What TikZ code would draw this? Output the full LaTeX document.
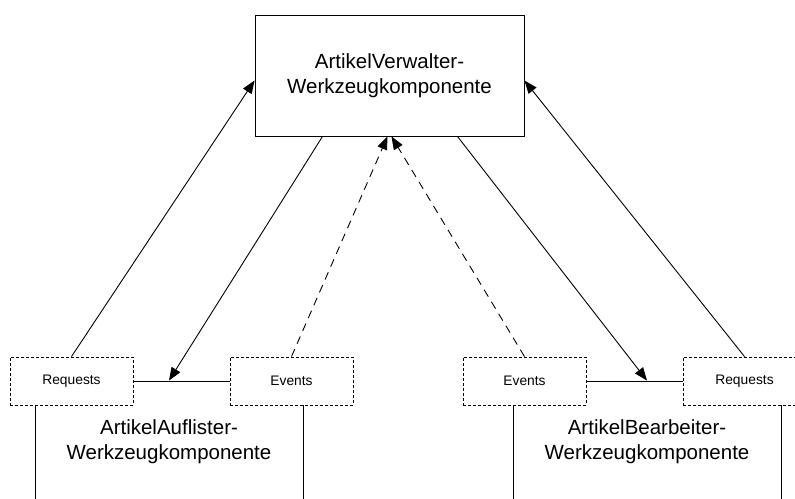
\documentclass[tikz,border=0pt]{standalone}
\usepackage{fontspec}
\setmainfont{Liberation Sans}
\usetikzlibrary{arrows.meta}
\begin{document}
\begin{tikzpicture}[x=1pt,y=-1pt,line width=0.9pt,
  bigtext/.style={font=\fontsize{20.5}{25}\selectfont,align=center},
  toolbox/.style={draw,minimum width=269pt,minimum height=121pt,inner sep=0pt},
  compbox/.style={draw,minimum width=268pt,minimum height=160pt,inner sep=0pt},
  port/.style={draw,fill=white,dash pattern=on 3pt off 2pt,minimum width=123pt,
    minimum height=48pt,inner sep=0pt,font=\fontsize{13.8}{16}\selectfont},
  call/.style={-{Triangle[length=13pt,width=10pt]}},
  notify/.style={call,dash pattern=on 8pt off 6pt}]
  \useasboundingbox (0,0) rectangle (795,498);

  % central tool component
  \node[toolbox,bigtext] (verw) at (389.5,75.5) {ArtikelVerwalter-\\Werkzeugkomponente};

  % lower tool components (open at the bottom edge)
  \node[compbox] (aufl) at (169,461) {};
  \node[compbox] (bearb) at (647,461) {};
  \node[bigtext] (auflname) at (169,442) {ArtikelAuflister-\\Werkzeugkomponente};
  \node[bigtext] (bearbname) at (647,442) {ArtikelBearbeiter-\\Werkzeugkomponente};

  % ports
  \node[port] (reqL) at (71.5,381) {Requests};
  \node[port] (evL) at (291.5,381) {Events};
  \node[port] (evR) at (524.5,381) {Events};
  \node[port] (reqR) at (744.5,381) {Requests};

  % requests up to the central component
  \draw[call] (reqL.north) -- ([yshift=-5pt]verw.west);
  \draw[call] (reqR.north) -- ([yshift=-5pt]verw.east);

  % calls down into the lower components
  \draw[call] ([xshift=-67pt]verw.south) -- (aufl.north);
  \draw[call] ([xshift=68pt]verw.south) -- (bearb.north);

  % events up to the central component
  \draw[notify] (evL.north) -- ([xshift=-2pt]verw.south);
  \draw[notify] (evR.north) -- ([xshift=2pt]verw.south);
\end{tikzpicture}
\end{document}
